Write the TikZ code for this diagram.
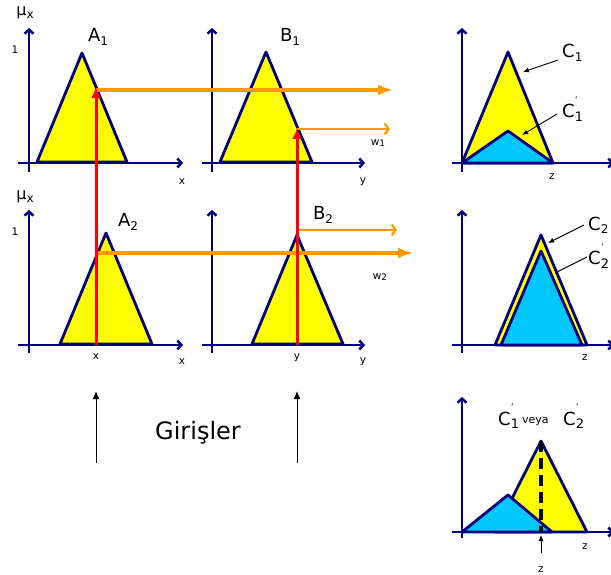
\documentclass[tikz,border=0pt]{standalone}
\usepackage{fontspec}
\setmainfont{DejaVu Sans}
\usetikzlibrary{arrows.meta}
\definecolor{navy}{RGB}{0,0,128}
\definecolor{fyellow}{RGB}{255,255,0}
\definecolor{fblue}{RGB}{0,200,255}
\definecolor{forange}{RGB}{255,153,0}
\newcommand\subx[2]{#1\raisebox{-0.35ex}{\fontsize{12}{12}\selectfont #2}}
\newcommand\Cpr[1]{C\rlap{\raisebox{1.5ex}{\fontsize{9}{9}\selectfont '}}\raisebox{-0.35ex}{\fontsize{13}{13}\selectfont #1}}
\tikzset{
  axis/.style={navy, line width=2.5pt, -{Straight Barb[length=4pt,width=9pt]}},
  mfy/.style={draw=navy, line width=2.8pt, fill=fyellow, line join=round},
  mfb/.style={draw=navy, line width=2.8pt, fill=fblue, line join=round},
  redarr/.style={red, line width=3pt, -{Latex[length=11pt,width=10pt]}},
  obig/.style={forange, line width=3.5pt, -{Latex[length=15pt,width=11pt]}},
  osmall/.style={forange, line width=2.2pt, -{Straight Barb[length=4pt,width=11pt]}},
  lblarr/.style={black, line width=0.9pt, -{Latex[length=6pt,width=5pt]}},
  lblline/.style={black, line width=0.9pt},
  inarr/.style={black, line width=1pt, -{Latex[length=8pt,width=7pt]}},
  big/.style={inner sep=0pt, font=\fontsize{18}{18}\selectfont},
  small/.style={inner sep=0pt, font=\fontsize{10.5}{10.5}\selectfont},
}
\begin{document}
\begin{tikzpicture}[x=1pt,y=-1pt]
\useasboundingbox (0,0) rectangle (611,575);
% axes
\draw[axis] (29,172) -- (29,28);   \draw[axis] (18,163) -- (183,163);
\draw[axis] (212,172) -- (212,28); \draw[axis] (202,163) -- (365,163);
\draw[axis] (462,172) -- (462,28); \draw[axis] (452,163) -- (614,163);
\draw[axis] (29,353) -- (29,210);  \draw[axis] (18,345) -- (183,345);
\draw[axis] (212,353) -- (212,210);\draw[axis] (202,345) -- (365,345);
\draw[axis] (462,353) -- (462,210);\draw[axis] (452,345) -- (614,345);
\draw[axis] (462,538) -- (462,397);\draw[axis] (452,532) -- (614,532);
% membership functions
\draw[mfy] (37,162) -- (82,53) -- (127,162) -- cycle;
\draw[mfy] (220,162) -- (266,52) -- (312,162) -- cycle;
\draw[mfy] (462,163) -- (508,52) -- (553,163) -- cycle;
\draw[mfb] (462,163) -- (508,131) -- (553,163) -- cycle;
\draw[mfy] (60,344) -- (106,233) -- (152,344) -- cycle;
\draw[mfy] (252,344) -- (297,235) -- (343,344) -- cycle;
\draw[mfy] (495,345) -- (541,235) -- (587,345) -- cycle;
\draw[mfb] (501,345) -- (541,251) -- (582,345) -- cycle;
\draw[mfy] (495,532) -- (541,441) -- (587,532) -- cycle;
\draw[mfb] (462,532) -- (508,495) -- (552,532) -- cycle;
% coordinates
\coordinate (r1a) at (96,345);  \coordinate (r1b) at (96,87);
\coordinate (r2a) at (297,345); \coordinate (r2b) at (297,128);
\coordinate (o1a) at (96,90);   \coordinate (o1b) at (393,90);
\coordinate (o2a) at (297,129); \coordinate (o2b) at (390,129);
\coordinate (o3a) at (297,230); \coordinate (o3b) at (397,230);
\coordinate (o4a) at (96,253);  \coordinate (o4b) at (413,253);
% orange lines
\draw[obig] (o1a) -- (o1b);
\draw[osmall] (o2a) -- (o2b);
\draw[osmall] (o3a) -- (o3b);
\draw[obig] (o4a) -- (o4b);
% red lines
\draw[redarr] (r1a) -- (r1b);
\draw[redarr] (r2a) -- (r2b);
% dashed line
\coordinate (dtop) at (541,441); \coordinate (dbot) at (541,532);
\draw[black, line width=3.2pt, dash pattern=on 11pt off 6pt] (dtop) -- (dbot);
% labels
\node[big] (A1) at (98,37) {\subx{A}{1}};
\node[big] (B1) at (290,37) {\subx{B}{1}};
\node[big] (A2) at (128,222) {\subx{A}{2}};
\node[big] (B2) at (323,215) {\subx{B}{2}};
\node[inner sep=0pt, font=\fontsize{16}{16}\selectfont] (mu1) at (25,13) {μ\raisebox{-0.3ex}{\fontsize{12}{12}\selectfont x}};
\node[inner sep=0pt, font=\fontsize{16}{16}\selectfont] (mu2) at (25,197) {μ\raisebox{-0.3ex}{\fontsize{12}{12}\selectfont x}};
\node[small] (one1) at (15,50) {1};
\node[small] (one2) at (15,232) {1};
\node[small] (x1) at (182,182) {x};
\node[small] (x2) at (182,362) {x};
\node[small] (x3) at (96,357) {x};
\node[small] (y1) at (363,182) {y};
\node[small] (y2) at (363,362) {y};
\node[small] (y3) at (297,358) {y};
\node[small] (z1) at (552,177) {z};
\node[small] (z2) at (585,358) {z};
\node[small] (z3) at (585,547) {z};
\node[small] (z4) at (541,570) {z};
\node[small] (w1) at (378,143) {w\raisebox{-0.3ex}{\fontsize{9}{9}\selectfont 1}};
\node[small] (w2) at (380,277) {w\raisebox{-0.3ex}{\fontsize{9}{9}\selectfont 2}};
\node[big, anchor=base west] (C1) at (562,58) {\subx{C}{1}};
\node[big, anchor=base west] (C1p) at (562,118) {\Cpr{1}};
\node[big, anchor=base west] (C2) at (588,230) {\subx{C}{2}};
\node[big, anchor=base west] (C2p) at (588,265) {\Cpr{2}};
\node[big, anchor=base west] (Cbot1) at (498,425) {\Cpr{1}};
\node[inner sep=0pt, anchor=base west, font=\fontsize{11}{11}\selectfont] (veya) at (522,423) {veya};
\node[big, anchor=base west] (Cbot2) at (563,425) {\Cpr{2}};
% label arrows
\coordinate (t1) at (523,72);
\coordinate (t2) at (522,135);
\coordinate (t3) at (548,243);
\coordinate (t4) at (555,273);
\draw[lblarr] (558,60) -- (t1);
\draw[lblarr] (557,114) -- (t2);
\draw[lblarr] (584,225) -- (t3);
\draw[lblline] (587,257) -- (t4);
\coordinate (zb) at (541,553); \coordinate (zt) at (541,535);
\draw[lblarr] (zb) -- (zt);
% inputs
\node[inner sep=0pt, font=\fontsize{24}{24}\selectfont] (gir) at (198,433) {Girişler};
\coordinate (i1a) at (96,463); \coordinate (i1b) at (96,391);
\coordinate (i2a) at (297,463); \coordinate (i2b) at (297,391);
\draw[inarr] (i1a) -- (i1b);
\draw[inarr] (i2a) -- (i2b);
\end{tikzpicture}
\end{document}
